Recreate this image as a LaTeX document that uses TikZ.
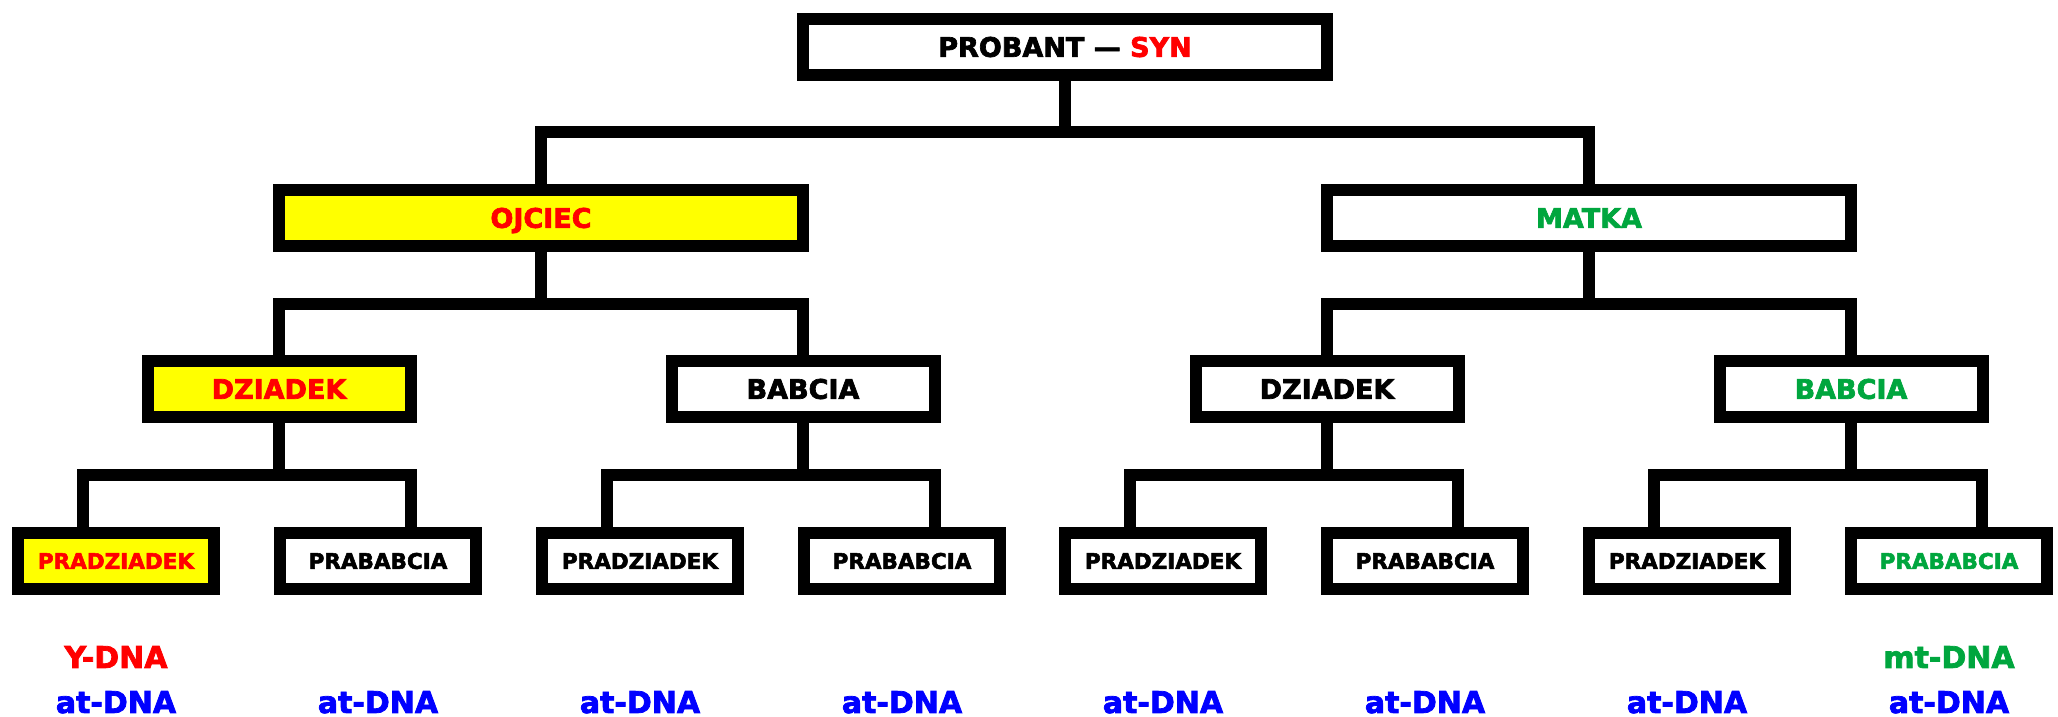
\documentclass[tikz,border=0pt]{standalone}
\usepackage{fontspec}
\newfontfamily\hv{DejaVu Sans Bold}[FakeBold=2.5]
\definecolor{gr}{RGB}{0,166,62}
\definecolor{rd}{RGB}{255,0,0}
\definecolor{bl}{RGB}{0,0,255}
\definecolor{yl}{RGB}{255,255,0}
\tikzset{
  lnk/.style={line width=12pt, line join=miter, black},
  box/.style={draw=black, line width=12pt, fill=white, inner sep=0pt, rectangle,
              minimum height=56pt, text height=19.7pt, text depth=0pt,
              font=\hv\fontsize{27}{30}\selectfont},
  wide/.style={box, minimum width=524pt},
  mid/.style={box, minimum width=263pt},
  small/.style={box, minimum width=196pt, text height=15.7pt,
                font=\hv\fontsize{21.5}{24}\selectfont},
  hl/.style={fill=yl},
  lab/.style={inner sep=0pt, anchor=base, font=\hv\fontsize{30}{32}\selectfont},
}
\begin{document}
\begin{tikzpicture}[x=1pt,y=1pt]
\useasboundingbox (0,0) rectangle (2058,717);
% level 1
\node[wide] (P) at (1065,670) {PROBANT — \textcolor{rd}{SYN}};
% level 2
\node[wide,hl,text=rd] (O) at (541,499) {OJCIEC};
\node[wide,text=gr] (M) at (1589,499) {MATKA};
% level 3
\node[mid,hl,text=rd] (D1) at (279,328) {DZIADEK};
\node[mid] (B1) at (803,328) {BABCIA};
\node[mid] (D2) at (1327,328) {DZIADEK};
\node[mid,text=gr] (B2) at (1851,328) {BABCIA};
% level 4
\node[small,hl,text=rd] (Q1) at (116,156) {PRADZIADEK};
\node[small] (Q2) at (378,156) {PRABABCIA};
\node[small] (Q3) at (640,156) {PRADZIADEK};
\node[small] (Q4) at (902,156) {PRABABCIA};
\node[small] (Q5) at (1163,156) {PRADZIADEK};
\node[small] (Q6) at (1425,156) {PRABABCIA};
\node[small] (Q7) at (1687,156) {PRADZIADEK};
\node[small,text=gr] (Q8) at (1949,156) {PRABABCIA};
% junction points
\coordinate (j0) at (1065,585);
\coordinate (j1) at (541,413);
\coordinate (j2) at (1589,413);
\coordinate (k1) at (279,242);
\coordinate (k2) at (803,242);
\coordinate (k3) at (1327,242);
\coordinate (k4) at (1851,242);
% connectors
\draw[lnk] (P.south) -- (j0);
\draw[lnk] (O.north) |- (j0) -| (M.north);
\draw[lnk] (O.south) -- (j1);
\draw[lnk] (D1.north) |- (j1) -| (B1.north);
\draw[lnk] (M.south) -- (j2);
\draw[lnk] (D2.north) |- (j2) -| (B2.north);
\draw[lnk] (D1.south) -- (k1);
\draw[lnk] ([xshift=-33pt]Q1.north) |- (k1) -| ([xshift=33pt]Q2.north);
\draw[lnk] (B1.south) -- (k2);
\draw[lnk] ([xshift=-33pt]Q3.north) |- (k2) -| ([xshift=33pt]Q4.north);
\draw[lnk] (D2.south) -- (k3);
\draw[lnk] ([xshift=-33pt]Q5.north) |- (k3) -| ([xshift=33pt]Q6.north);
\draw[lnk] (B2.south) -- (k4);
\draw[lnk] ([xshift=-33pt]Q7.north) |- (k4) -| ([xshift=33pt]Q8.north);
% bottom labels
\node[lab,text=rd] (y1) at (116,49) {Y-DNA};
\node[lab,text=gr] (m8) at (1949,49) {mt-DNA};
\node[lab,text=bl] (a1) at (116,4) {at-DNA};
\node[lab,text=bl] (a2) at (378,4) {at-DNA};
\node[lab,text=bl] (a3) at (640,4) {at-DNA};
\node[lab,text=bl] (a4) at (902,4) {at-DNA};
\node[lab,text=bl] (a5) at (1163,4) {at-DNA};
\node[lab,text=bl] (a6) at (1425,4) {at-DNA};
\node[lab,text=bl] (a7) at (1687,4) {at-DNA};
\node[lab,text=bl] (a8) at (1949,4) {at-DNA};
\end{tikzpicture}
\end{document}
